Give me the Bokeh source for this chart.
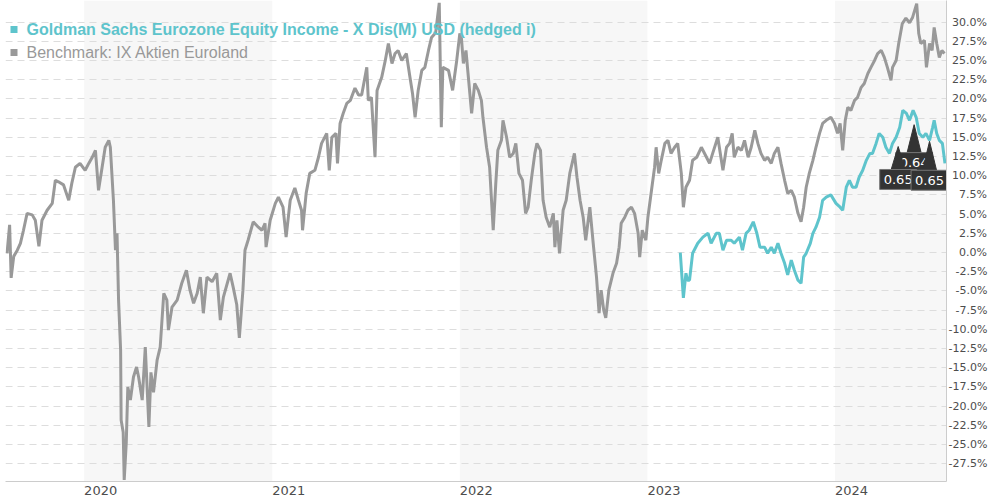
import numpy as np
import pandas as pd
from bokeh.plotting import figure
from bokeh.models import (Range1d, FixedTicker, CustomJSTickFormatter, DatetimeTickFormatter,
                          BoxAnnotation, Label, ColumnDataSource)
from bokeh.core.properties import value
from bokeh.embed import file_html
from bokeh.resources import INLINE

# ---------------- data ----------------
FUND_NAME = "Goldman Sachs Eurozone Equity Income - X Dis(M) USD (hedged i)"
BENCH_NAME = "Benchmark: IX Aktien Euroland"

BENCH_DATES = [
    "2019-08-04", "2019-08-09", "2019-08-12", "2019-08-17", "2019-08-24", "2019-08-30", "2019-09-05",
    "2019-09-12", "2019-09-22", "2019-09-28", "2019-10-05", "2019-10-11", "2019-10-21", "2019-10-31",
    "2019-11-06", "2019-11-12", "2019-11-22", "2019-12-02", "2019-12-08", "2019-12-15", "2019-12-24",
    "2020-01-03", "2020-01-10", "2020-01-16", "2020-01-23", "2020-01-29", "2020-02-05", "2020-02-11",
    "2020-02-18", "2020-02-21", "2020-02-27", "2020-03-02", "2020-03-05", "2020-03-08", "2020-03-12",
    "2020-03-13", "2020-03-17", "2020-03-19", "2020-03-23", "2020-03-26", "2020-03-31", "2020-04-06",
    "2020-04-12", "2020-04-16", "2020-04-23", "2020-04-29", "2020-05-06", "2020-05-10", "2020-05-15",
    "2020-05-22", "2020-05-28", "2020-06-04", "2020-06-10", "2020-06-13", "2020-06-20", "2020-06-30",
    "2020-07-09", "2020-07-18", "2020-07-25", "2020-08-01", "2020-08-08", "2020-08-14", "2020-08-20",
    "2020-08-27", "2020-09-06", "2020-09-15", "2020-09-22", "2020-09-28", "2020-10-11", "2020-10-17",
    "2020-10-24", "2020-10-29", "2020-11-05", "2020-11-09", "2020-11-15", "2020-11-25", "2020-12-05",
    "2020-12-12", "2020-12-18", "2020-12-20", "2020-12-28",
    "2021-01-07", "2021-01-13", "2021-01-22", "2021-01-28", "2021-02-05", "2021-02-14", "2021-02-21",
    "2021-02-27", "2021-03-01", "2021-03-08", "2021-03-15", "2021-03-25", "2021-04-01", "2021-04-07",
    "2021-04-17", "2021-04-22", "2021-04-27", "2021-05-05", "2021-05-08", "2021-05-13", "2021-05-19",
    "2021-05-26", "2021-06-02", "2021-06-11", "2021-06-18", "2021-06-24", "2021-07-04", "2021-07-07",
    "2021-07-13", "2021-07-20", "2021-07-24", "2021-08-02", "2021-08-09", "2021-08-15", "2021-08-22",
    "2021-08-28", "2021-09-03", "2021-09-10", "2021-09-19", "2021-09-26", "2021-10-01", "2021-10-06",
    "2021-10-12", "2021-10-19", "2021-10-25", "2021-11-01", "2021-11-07", "2021-11-15", "2021-11-22",
    "2021-11-26", "2021-11-29", "2021-12-10", "2021-12-18", "2021-12-26",
    "2022-01-01", "2022-01-04", "2022-01-08", "2022-01-13", "2022-01-17", "2022-01-24", "2022-01-30",
    "2022-02-06", "2022-02-12", "2022-02-15", "2022-02-22", "2022-02-28", "2022-03-07", "2022-03-12",
    "2022-03-16", "2022-03-23", "2022-03-26", "2022-04-02", "2022-04-08", "2022-04-15", "2022-04-20",
    "2022-04-26", "2022-05-03", "2022-05-09", "2022-05-14", "2022-05-20", "2022-05-27", "2022-05-31",
    "2022-06-07", "2022-06-12", "2022-06-18", "2022-06-25", "2022-07-02", "2022-07-05", "2022-07-09",
    "2022-07-14", "2022-07-21", "2022-07-27", "2022-08-03", "2022-08-12", "2022-08-17", "2022-08-23",
    "2022-08-29", "2022-09-03", "2022-09-11", "2022-09-17", "2022-09-24", "2022-09-29", "2022-10-03",
    "2022-10-08", "2022-10-12", "2022-10-18", "2022-10-26", "2022-11-02", "2022-11-07", "2022-11-11",
    "2022-11-18", "2022-11-24", "2022-12-01", "2022-12-07", "2022-12-14", "2022-12-17", "2022-12-22",
    "2022-12-29",
    "2023-01-02", "2023-01-09", "2023-01-15", "2023-01-18", "2023-01-23", "2023-01-28", "2023-02-04",
    "2023-02-10", "2023-02-16", "2023-02-23", "2023-03-01", "2023-03-08", "2023-03-12", "2023-03-17",
    "2023-03-24", "2023-03-30", "2023-04-07", "2023-04-16", "2023-04-26", "2023-05-02", "2023-05-08",
    "2023-05-18", "2023-05-24", "2023-05-28", "2023-06-04", "2023-06-10", "2023-06-15", "2023-06-19",
    "2023-06-26", "2023-07-03", "2023-07-09", "2023-07-16", "2023-07-22", "2023-07-29", "2023-08-04",
    "2023-08-10", "2023-08-17", "2023-08-23", "2023-08-30", "2023-09-05", "2023-09-12", "2023-09-18",
    "2023-09-25", "2023-10-01", "2023-10-08", "2023-10-14", "2023-10-21", "2023-10-27", "2023-11-01",
    "2023-11-06", "2023-11-12", "2023-11-19", "2023-11-25", "2023-12-02", "2023-12-08", "2023-12-15",
    "2023-12-24", "2023-12-31",
    "2024-01-06", "2024-01-11", "2024-01-16", "2024-01-21", "2024-01-26", "2024-02-01", "2024-02-08",
    "2024-02-14", "2024-02-21", "2024-02-27", "2024-03-05", "2024-03-11", "2024-03-18", "2024-03-24",
    "2024-03-31", "2024-04-06", "2024-04-12", "2024-04-19", "2024-04-22", "2024-04-29", "2024-05-04",
    "2024-05-11", "2024-05-18", "2024-05-25", "2024-05-31", "2024-06-08", "2024-06-12", "2024-06-16",
    "2024-06-23", "2024-06-27", "2024-07-03", "2024-07-08", "2024-07-12", "2024-07-17", "2024-07-22",
    "2024-07-27", "2024-08-01",
]
BENCH_VALUES = [
    -0.1, 3.6, -3.3, -0.5, 0.3, 1.2, 2.9,
    5.1, 4.9, 4.2, 0.8, 4.2, 5.5, 6.4,
    9.4, 9.2, 8.8, 6.8, 9.0, 11.1, 11.6,
    10.7, 11.6, 12.3, 13.3, 8.1, 11.1, 13.7,
    14.6, 13.7, 6.8, 0.3, 2.5, -6.2, -12.7,
    -21.8, -23.4, -29.6, -24.7, -17.5, -19.2, -16.2,
    -14.9, -16.2, -19.2, -12.3, -22.7, -15.6, -18.2,
    -14.0, -12.3, -5.3, -6.2, -10.1, -7.1, -6.2,
    -4.0, -2.3, -4.9, -6.6, -5.3, -3.2, -7.9,
    -3.2, -3.8, -2.7, -8.8, -5.8, -2.7, -4.5,
    -6.8, -11.1, -4.9, 0.3, 1.6, 4.0, 3.3,
    2.9, 3.8, 0.7, 4.2,
    6.4, 7.2, 5.9, 2.0, 6.8, 8.4, 6.8,
    5.5, 2.9, 7.7, 10.3, 10.7, 12.4, 14.2,
    15.5, 10.7, 15.0, 15.5, 11.6, 16.8, 18.1,
    19.4, 19.8, 21.4, 20.5, 20.5, 24.1, 19.8,
    20.2, 12.4, 21.1, 22.8, 25.0, 27.2, 24.6,
    25.9, 26.3, 25.0, 25.9, 22.8, 20.7, 17.6,
    21.1, 23.7, 24.1, 26.3, 28.0, 28.6, 32.5,
    16.3, 24.1, 23.7, 21.1, 25.0,
    28.5, 28.0, 24.6, 26.3, 23.3, 18.1, 22.0,
    21.1, 19.8, 17.6, 13.7, 11.1, 2.9, 9.0,
    13.3, 14.6, 17.2, 15.0, 12.4, 12.9, 14.2,
    10.3, 9.4, 5.1, 5.9, 9.4, 12.9, 14.2,
    13.3, 6.8, 4.6, 3.3, 5.1, 0.7, 4.2,
    -0.1, 5.5, 6.8, 10.3, 12.9, 9.8, 6.8,
    4.6, 1.6, 5.9, 1.6, -3.2, -7.9, -4.9,
    -7.5, -8.5, -4.9, -2.7, -1.4, 0.7, 3.8,
    4.6, 5.5, 5.9, 5.1, 2.5, -0.6, 2.9,
    1.6,
    4.6, 8.1, 11.1, 13.7, 10.3, 12.0, 14.2,
    14.6, 12.9, 13.7, 14.2, 10.3, 5.9, 8.5,
    9.4, 12.0, 12.4, 13.7, 12.4, 11.6, 12.9,
    15.0, 12.4, 10.7, 13.7, 14.2, 15.5, 12.4,
    13.7, 13.3, 14.6, 12.4, 13.7, 15.9, 14.2,
    12.9, 12.0, 12.4, 11.6, 12.9, 13.7, 11.6,
    9.4, 7.7, 8.1, 7.2, 5.1, 4.0, 5.9,
    8.5, 10.3, 12.0, 13.7, 15.5, 16.8, 17.2,
    17.6, 16.8,
    15.5, 16.8, 13.3, 17.2, 18.9, 18.5, 19.8,
    20.2, 21.5, 22.0, 23.3, 24.1, 25.0, 25.9,
    26.3, 25.4, 24.1, 22.4, 24.1, 25.0, 27.2,
    29.8, 30.5, 29.9, 30.6, 32.4, 28.5, 27.2,
    27.6, 24.1, 27.2, 26.3, 29.3, 27.2, 25.4,
    26.3, 25.9,
]

FUND_DATES = [
    "2023-03-06", "2023-03-12", "2023-03-17", "2023-03-20", "2023-03-24", "2023-03-30", "2023-04-09",
    "2023-04-19", "2023-04-29", "2023-05-05", "2023-05-15", "2023-05-21", "2023-05-28", "2023-06-04",
    "2023-06-13", "2023-06-19", "2023-06-29", "2023-07-05", "2023-07-12", "2023-07-18", "2023-07-26",
    "2023-08-02", "2023-08-08", "2023-08-17", "2023-08-23", "2023-08-30", "2023-09-05", "2023-09-12",
    "2023-09-18", "2023-09-25", "2023-10-01", "2023-10-08", "2023-10-14", "2023-10-21", "2023-10-27",
    "2023-11-01", "2023-11-06", "2023-11-14", "2023-11-19", "2023-11-25", "2023-12-02", "2023-12-08",
    "2023-12-15", "2023-12-24",
    "2024-01-03", "2024-01-11", "2024-01-16", "2024-01-23", "2024-01-29", "2024-02-04", "2024-02-11",
    "2024-02-17", "2024-02-24", "2024-03-02", "2024-03-09", "2024-03-14", "2024-03-21", "2024-03-27",
    "2024-04-03", "2024-04-09", "2024-04-16", "2024-04-22", "2024-04-29", "2024-05-06", "2024-05-12",
    "2024-05-19", "2024-05-25", "2024-06-01", "2024-06-07", "2024-06-13", "2024-06-20", "2024-06-26",
    "2024-07-03", "2024-07-09", "2024-07-12", "2024-07-17", "2024-07-22", "2024-07-28", "2024-08-02",
]
FUND_VALUES = [
    0.0, -5.9, -2.7, -3.6, -3.6, -0.1, 1.2,
    2.0, 2.5, 1.2, 2.5, 2.5, 0.3, 1.6,
    1.6, 1.2, 2.0, 0.3, 2.5, 2.9, 4.0,
    2.5, 0.7, 0.7, -0.1, 0.7, -0.1, 1.2,
    -0.1, -1.4, -2.9, -1.0, -2.3, -3.6, -4.0,
    -0.6, -0.1, 1.2, 2.5, 3.3, 4.6, 6.8,
    7.2, 7.5,
    6.4, 5.9, 5.5, 8.5, 9.4, 8.5, 8.5,
    9.8, 10.7, 12.0, 12.9, 12.9, 14.2, 15.5,
    15.0, 13.7, 12.9, 14.2, 15.0, 16.3, 18.5,
    18.1, 17.2, 18.5, 17.6, 15.5, 15.0, 15.5,
    14.6, 16.3, 17.2, 15.5, 14.6, 14.2, 11.6,
]

DIV_DATES = ["2024-05-03", "2024-06-03", "2024-07-03"]
DIV_AMOUNTS = [0.65, 0.64, 0.65]

YEAR_TICKS = [2020, 2021, 2022, 2023, 2024]
SHADED_YEARS = [2020, 2022, 2024]
Y_TICKS = [-27.5, -25.0, -22.5, -20.0, -17.5, -15.0, -12.5, -10.0, -7.5, -5.0, -2.5, 0.0,
           2.5, 5.0, 7.5, 10.0, 12.5, 15.0, 17.5, 20.0, 22.5, 25.0, 27.5, 30.0]

X_START, X_END = "2019-08-01", "2024-08-05"
Y_MIN, Y_MAX = -29.8, 32.8

# ---------------- style ----------------
FUND_COLOR = "#5ec4cc"
BENCH_COLOR = "#999999"
BAND_COLOR = "#f7f7f7"
GRID_COLOR = "#dddddd"
AXIS_COLOR = "#cccccc"
LABEL_COLOR = "#4d4d4d"
FLAG_FILL = "#333333"
FLAG_BORDER = "#777777"

W, H = 990, 500
ML, MR, MT, MB = 5, 43, 0, 18
FW, FH = W - ML - MR, H - MT - MB


def to_ms(dates):
    return pd.to_datetime(dates).asi8 / 1e6


x0, x1 = pd.Timestamp(X_START), pd.Timestamp(X_END)

p = figure(width=W, height=H, x_axis_type="datetime", y_axis_location="right",
           x_range=Range1d(x0, x1), y_range=Range1d(Y_MIN, Y_MAX), title=None,
           output_backend="svg", toolbar_location=None,
           min_border_left=ML, min_border_right=MR, min_border_top=MT, min_border_bottom=MB)
p.outline_line_color = None
p.background_fill_color = "white"
p.border_fill_color = "white"

# alternating year bands
band_left = to_ms([f"{y}-01-01" for y in SHADED_YEARS])
band_right = to_ms([f"{y + 1}-01-01" for y in SHADED_YEARS])
p.quad(left=band_left, right=band_right, top=Y_MAX, bottom=Y_MIN,
       fill_color=BAND_COLOR, line_color=None, level="image")

# series
bench_src = ColumnDataSource(dict(date=pd.to_datetime(BENCH_DATES), value=BENCH_VALUES))
fund_src = ColumnDataSource(dict(date=pd.to_datetime(FUND_DATES), value=FUND_VALUES))
p.line(x="date", y="value", source=bench_src, line_color=BENCH_COLOR, line_width=3)
p.line(x="date", y="value", source=fund_src, line_color=FUND_COLOR, line_width=3)

# dividend flags
ms_per_px = (x1 - x0).total_seconds() * 1000 / FW
val_per_px = (Y_MAX - Y_MIN) / FH
div_ms = to_ms(DIV_DATES)
anchor = np.interp(div_ms, to_ms(FUND_DATES), FUND_VALUES)
APEX_OFF = [15, 12, 1]
BOX_OFF = [38, 40, 30]
BOX_W, BOX_H, TRI_HALF = 37, 20, 7
for i in [1, 0, 2]:
    cx = div_ms[i]
    apex_y = anchor[i] - APEX_OFF[i] * val_per_px
    top = anchor[i] - BOX_OFF[i] * val_per_px
    bottom = top - BOX_H * val_per_px
    p.patch(x=[cx - TRI_HALF * ms_per_px, cx, cx + TRI_HALF * ms_per_px],
            y=[top, apex_y, top], fill_color=FLAG_FILL, line_color=FLAG_FILL)
    p.quad(left=[cx - BOX_W / 2 * ms_per_px], right=[cx + BOX_W / 2 * ms_per_px],
           top=[top], bottom=[bottom], fill_color=FLAG_FILL, line_color=FLAG_BORDER)
    p.text(x=[cx], y=[(top + bottom) / 2], text=[f"{DIV_AMOUNTS[i]:.2f}"],
           text_color="white", text_font=value("DejaVu Sans"), text_font_size=value("13px"),
           text_align="center", text_baseline="middle")

# axes
for ax in (p.xaxis[0], p.yaxis[0]):
    ax.major_tick_line_color = None
    ax.minor_tick_line_color = None
    ax.major_tick_out = 0
    ax.major_tick_in = 0
    ax.minor_tick_out = 0
    ax.minor_tick_in = 0
    ax.axis_line_color = AXIS_COLOR
    ax.major_label_text_font = "DejaVu Sans"
    ax.major_label_text_color = LABEL_COLOR

xax = p.xaxis[0]
xax.ticker = FixedTicker(ticks=list(to_ms([f"{y}-01-01" for y in YEAR_TICKS])))
fmt = "\u2007\u2007\u2007\u2007%Y"
xax.formatter = DatetimeTickFormatter(years=fmt, months=fmt, days=fmt)
xax.major_label_standoff = 1
xax.major_label_text_font_size = "13px"
p.xgrid.visible = False

yax = p.yaxis[0]
yax.ticker = FixedTicker(ticks=Y_TICKS)
yax.formatter = CustomJSTickFormatter(code="""
const s = tick.toFixed(1) + "%";
let pad = "";
if (tick >= 0) { pad += "\\u2008"; }
if (Math.abs(tick) < 10) { pad += "\\u2007"; }
return pad + s;
""")
yax.major_label_standoff = 2
yax.major_label_text_font_size = "11px"
p.ygrid.grid_line_color = GRID_COLOR
p.ygrid.grid_line_dash = "7 5"
p.ygrid.grid_line_width = 1

# legend (positions relative to the plot frame, y measured from its bottom)
legend_rows = [(FUND_NAME, FUND_COLOR, "bold"), (BENCH_NAME, BENCH_COLOR, "normal")]
for k, (name, color, style) in enumerate(legend_rows):
    row_mid = FH - 30 - 23 * k
    p.add_layout(BoxAnnotation(left=5, right=12, bottom=row_mid - 3.5, top=row_mid + 3.5,
                               left_units="screen", right_units="screen",
                               top_units="screen", bottom_units="screen",
                               fill_color=color, fill_alpha=1, line_color=None))
    p.add_layout(Label(x=21, y=row_mid, x_units="screen", y_units="screen", text=name,
                       text_font="Liberation Sans", text_font_size="16px",
                       text_font_style=style, text_color=color, text_baseline="middle"))

open("out.html", "w").write(file_html(p, INLINE))
